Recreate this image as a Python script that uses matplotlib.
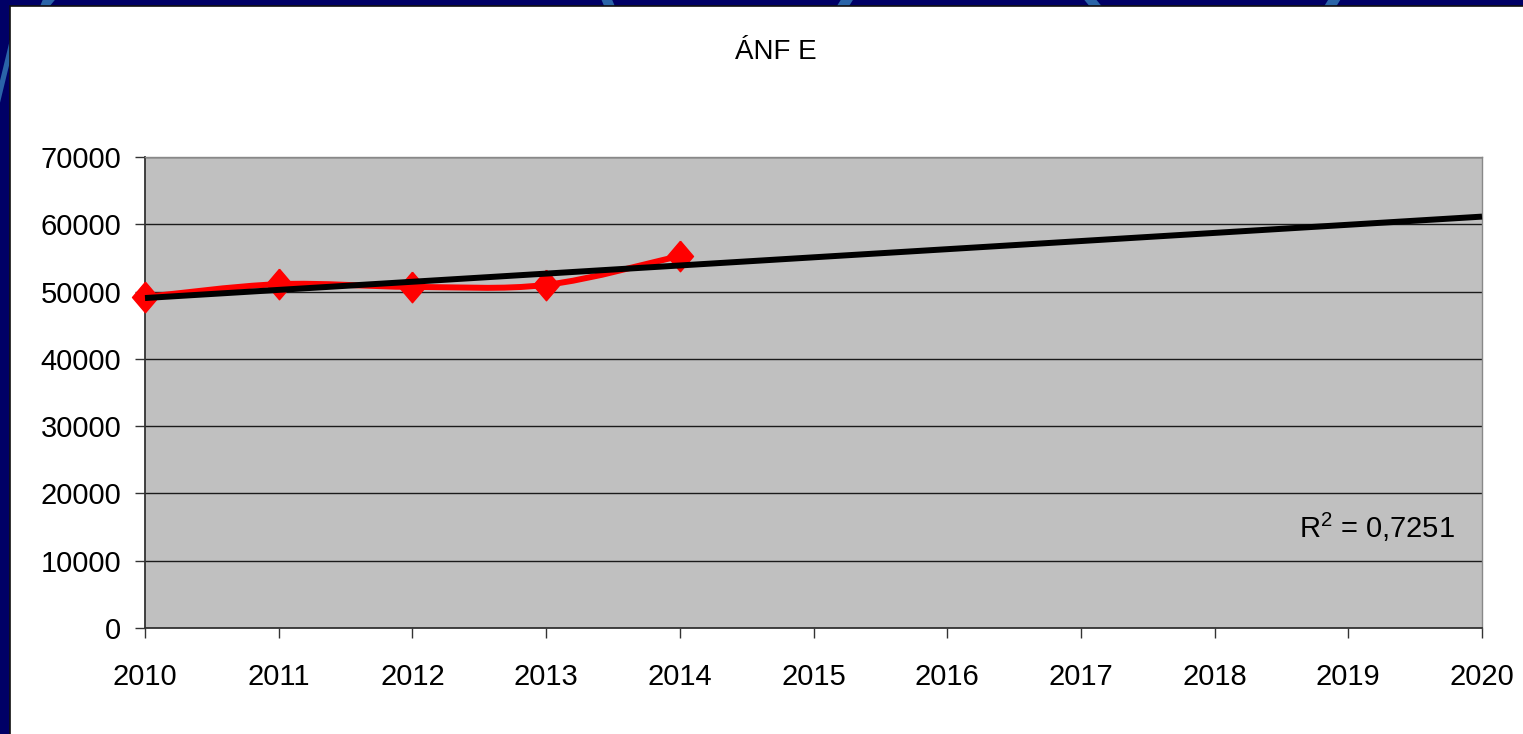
import numpy as np
import matplotlib.pyplot as plt
from matplotlib.patches import Rectangle, Polygon, PathPatch
from matplotlib.path import Path

plt.rcParams['font.family'] = ['Liberation Sans', 'DejaVu Sans']
plt.rcParams['mathtext.fontset'] = 'custom'
plt.rcParams['mathtext.rm'] = 'Liberation Sans'

# data
years = [2010, 2011, 2012, 2013, 2014]
values = [49200, 51100, 50700, 51000, 55300]
axis_years = list(range(2010, 2021))
y_ticks = list(range(0, 70001, 10000))
title = "ÁNF E"
r2_label = "R$^\\mathrm{2}$ = 0,7251"

fig = plt.figure(figsize=(15.23, 7.34), dpi=100)
fig.patch.set_facecolor('#000066')

# light blue decoration in the navy frame
for pts in [[(0.028, 1.0), (0.036, 1.0), (0.032, 0.99), (0.026, 0.99)],
            [(0.395, 1.0), (0.402, 1.0), (0.404, 0.99), (0.397, 0.99)],
            [(0.552, 1.0), (0.560, 1.0), (0.557, 0.99), (0.549, 0.99)],
            [(0.712, 1.0), (0.720, 1.0), (0.724, 0.99), (0.716, 0.99)],
            [(0.872, 1.0), (0.880, 1.0), (0.877, 0.99), (0.869, 0.99)],
            [(0.0, 0.86), (0.007, 0.92), (0.007, 0.95), (0.0, 0.89)]]:
    fig.patches.append(Polygon(pts, closed=True, transform=fig.transFigure,
                               facecolor='#2a64a8', edgecolor='none', zorder=-3))

fig.patches.append(Rectangle((10 / 1523, -0.01), 1.02 - 10 / 1523, 1.01 - 6 / 734,
                             transform=fig.transFigure, facecolor='white',
                             edgecolor='#111111', linewidth=1.2, zorder=-2))

ax = fig.add_axes([145 / 1523, 1 - 628 / 734, (1482 - 145) / 1523, (628 - 157) / 734])
ax.set_facecolor('#c0c0c0')
ax.set_xlim(2010, 2020)
ax.set_ylim(0, 70000)
ax.set_xticks(axis_years)
ax.set_yticks(y_ticks)
ax.grid(axis='y', color='#1a1a1a', linewidth=1.0)
ax.set_axisbelow(True)
for s in ['left', 'bottom']:
    ax.spines[s].set_color('#333333')
    ax.spines[s].set_linewidth(1.3)
for s in ['top', 'right']:
    ax.spines[s].set_color('#888888')
    ax.spines[s].set_linewidth(1.0)
ax.tick_params(axis='y', direction='out', length=7, width=1, color='#333333',
               labelsize=21, pad=10)
ax.tick_params(axis='x', direction='out', length=7, width=1, color='#333333',
               labelsize=21, pad=18)

# smoothed red line (Catmull-Rom as cubic bezier)
x = np.array(years, dtype=float)
y = np.array(values, dtype=float)
verts = [(x[0], y[0])]
codes = [Path.MOVETO]
for i in range(len(x) - 1):
    p0 = np.array([x[max(i - 1, 0)], y[max(i - 1, 0)]])
    p1 = np.array([x[i], y[i]])
    p2 = np.array([x[i + 1], y[i + 1]])
    p3 = np.array([x[min(i + 2, len(x) - 1)], y[min(i + 2, len(x) - 1)]])
    c1 = p1 + (p2 - p0) / 6
    c2 = p2 - (p3 - p1) / 6
    verts += [tuple(c1), tuple(c2), tuple(p2)]
    codes += [Path.CURVE4] * 3
ax.add_patch(PathPatch(Path(verts, codes), facecolor='none', edgecolor='red',
                       linewidth=4.3, zorder=3, clip_on=False))

diamond = [(0, 1), (0.85, 0), (0, -1), (-0.85, 0), (0, 1)]
ax.plot(years, values, linestyle='none', marker=diamond, markersize=22,
        color='red', zorder=4, clip_on=False)

# linear trend line
k, b = np.polyfit(years, values, 1)
tx = np.array([2010, 2020])
ax.plot(tx, k * tx + b, color='black', linewidth=4.3, zorder=5,
        solid_capstyle='butt', clip_on=False)

ax.text(2019.8, 15000, r2_label, fontsize=21, ha='right', va='center', zorder=6)

fig.text(776 / 1523, 1 - 59 / 734, title, fontsize=20, ha='center', va='baseline')

fig.savefig('out.png', dpi=100, facecolor=fig.get_facecolor())
